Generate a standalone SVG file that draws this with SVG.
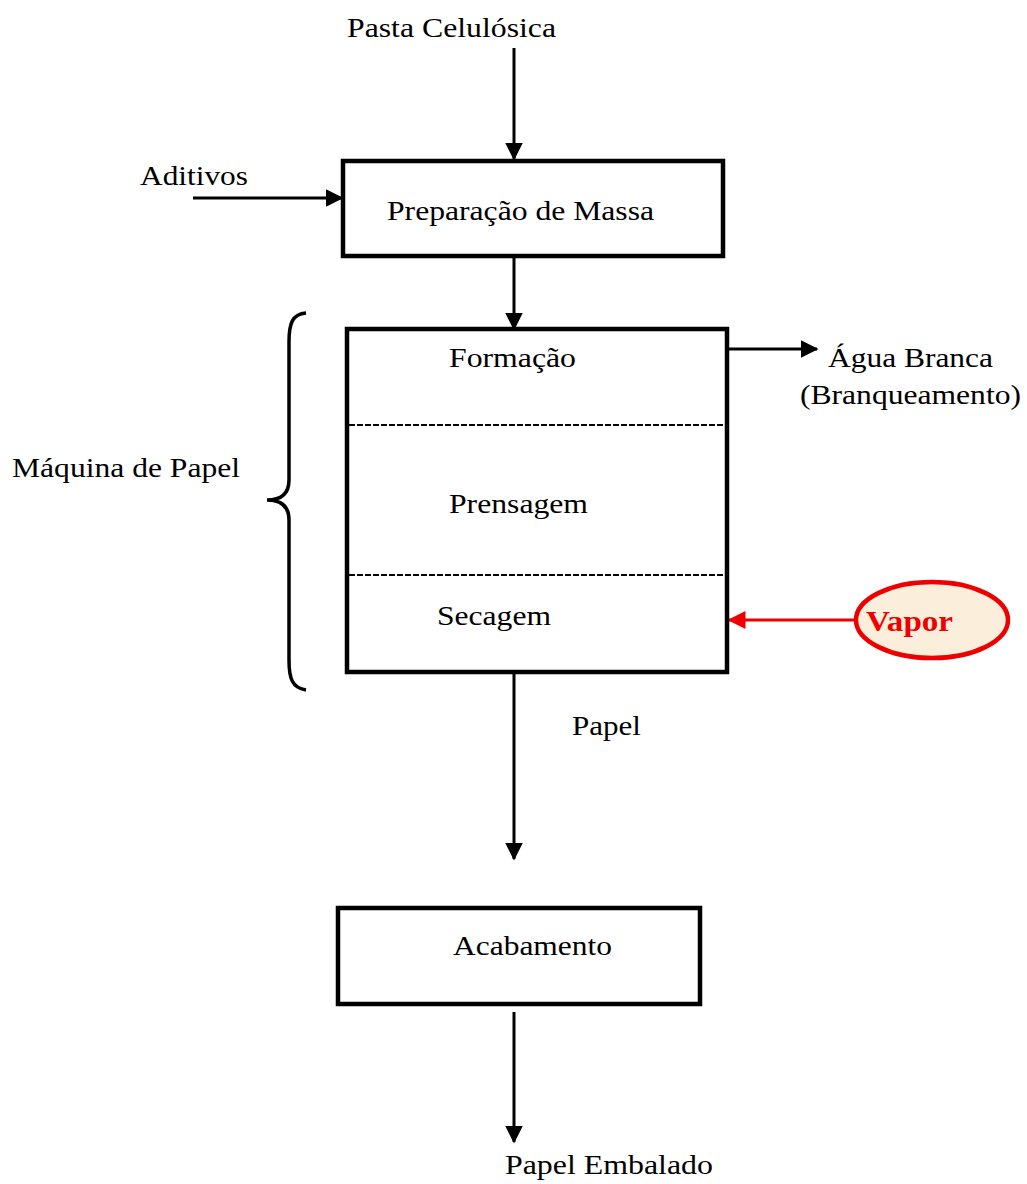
<svg xmlns="http://www.w3.org/2000/svg" width="1027" height="1184" viewBox="0 0 1027 1184">
<style>
.t{font-family:"Liberation Serif","Times New Roman",serif;font-size:28px;fill:#000}
.box{fill:#fff;stroke:#000;stroke-width:4.5}
.ln{stroke:#000;stroke-width:3;fill:none}
</style>
<defs>
<marker id="ah" markerWidth="6" markerHeight="6" refX="5.5" refY="3" orient="auto" markerUnits="strokeWidth"><path d="M0,0 L6,3 L0,6 z" fill="#000"/></marker>
<marker id="ahr" markerWidth="6" markerHeight="6" refX="5.5" refY="3" orient="auto" markerUnits="strokeWidth"><path d="M0,0 L6,3 L0,6 z" fill="#e00"/></marker>
</defs>
<rect width="1027" height="1184" fill="#fff"/>
<g id="connectors">
<line class="ln" x1="514" y1="48" x2="514" y2="159" marker-end="url(#ah)"/>
<line class="ln" x1="193" y1="198" x2="342" y2="198" marker-end="url(#ah)"/>
<line class="ln" x1="514" y1="258" x2="514" y2="329" marker-end="url(#ah)"/>
<line class="ln" x1="722" y1="349" x2="817" y2="349" marker-end="url(#ah)"/>
<line class="ln" x1="514" y1="674" x2="514" y2="859" marker-end="url(#ah)"/>
<line class="ln" x1="514" y1="1012" x2="514" y2="1142" marker-end="url(#ah)"/>
<line x1="856" y1="620" x2="729" y2="620" stroke="#e00" stroke-width="3" marker-end="url(#ahr)"/>
</g>
<g id="pasta"><text class="t" x="347" y="37" textLength="209" lengthAdjust="spacingAndGlyphs">Pasta Celulósica</text></g>
<g id="aditivos"><text class="t" x="140" y="185" textLength="108" lengthAdjust="spacingAndGlyphs">Aditivos</text></g>
<g id="preparacao">
<rect class="box" x="343" y="161" width="380" height="95"/>
<text class="t" x="387" y="220" textLength="267" lengthAdjust="spacingAndGlyphs">Preparação de Massa</text>
</g>
<g id="maquina">
<rect class="box" x="347" y="329" width="380" height="343"/>
<line x1="349" y1="425" x2="725" y2="425" stroke="#000" stroke-width="2" stroke-dasharray="6,2"/>
<line x1="349" y1="575" x2="725" y2="575" stroke="#000" stroke-width="2" stroke-dasharray="6,2"/>
<text class="t" x="449" y="367" textLength="127" lengthAdjust="spacingAndGlyphs">Formação</text>
<text class="t" x="449" y="513" textLength="139" lengthAdjust="spacingAndGlyphs">Prensagem</text>
<text class="t" x="437" y="625" textLength="114" lengthAdjust="spacingAndGlyphs">Secagem</text>
</g>
<g id="brace">
<path d="M306,313 C292,314 289,324 289,342 L289,480 C289,493 282,500 267,500 C282,500 289,507 289,520 L289,660 C289,678 292,688 306,690" stroke="#000" stroke-width="3.5" fill="none"/>
<text class="t" x="12" y="477" textLength="228" lengthAdjust="spacingAndGlyphs">Máquina de Papel</text>
</g>
<g id="agua">
<text class="t" x="828" y="367" textLength="165" lengthAdjust="spacingAndGlyphs">Água Branca</text>
<text class="t" x="800" y="404" textLength="221" lengthAdjust="spacingAndGlyphs">(Branqueamento)</text>
</g>
<g id="vapor">
<ellipse cx="932" cy="620" rx="76" ry="38" fill="#fbeedb" stroke="#e00" stroke-width="4.5"/>
<text x="866" y="631" font-family="Liberation Serif,serif" font-size="29" font-weight="bold" fill="#e00" textLength="87" lengthAdjust="spacingAndGlyphs">Vapor</text>
</g>
<g id="papel"><text class="t" x="572" y="735" textLength="69" lengthAdjust="spacingAndGlyphs">Papel</text></g>
<g id="acabamento">
<rect class="box" x="338" y="908" width="362" height="96"/>
<text class="t" x="453" y="955" textLength="159" lengthAdjust="spacingAndGlyphs">Acabamento</text>
</g>
<g id="embalado"><text class="t" x="505" y="1174" textLength="208" lengthAdjust="spacingAndGlyphs">Papel Embalado</text></g>
</svg>
